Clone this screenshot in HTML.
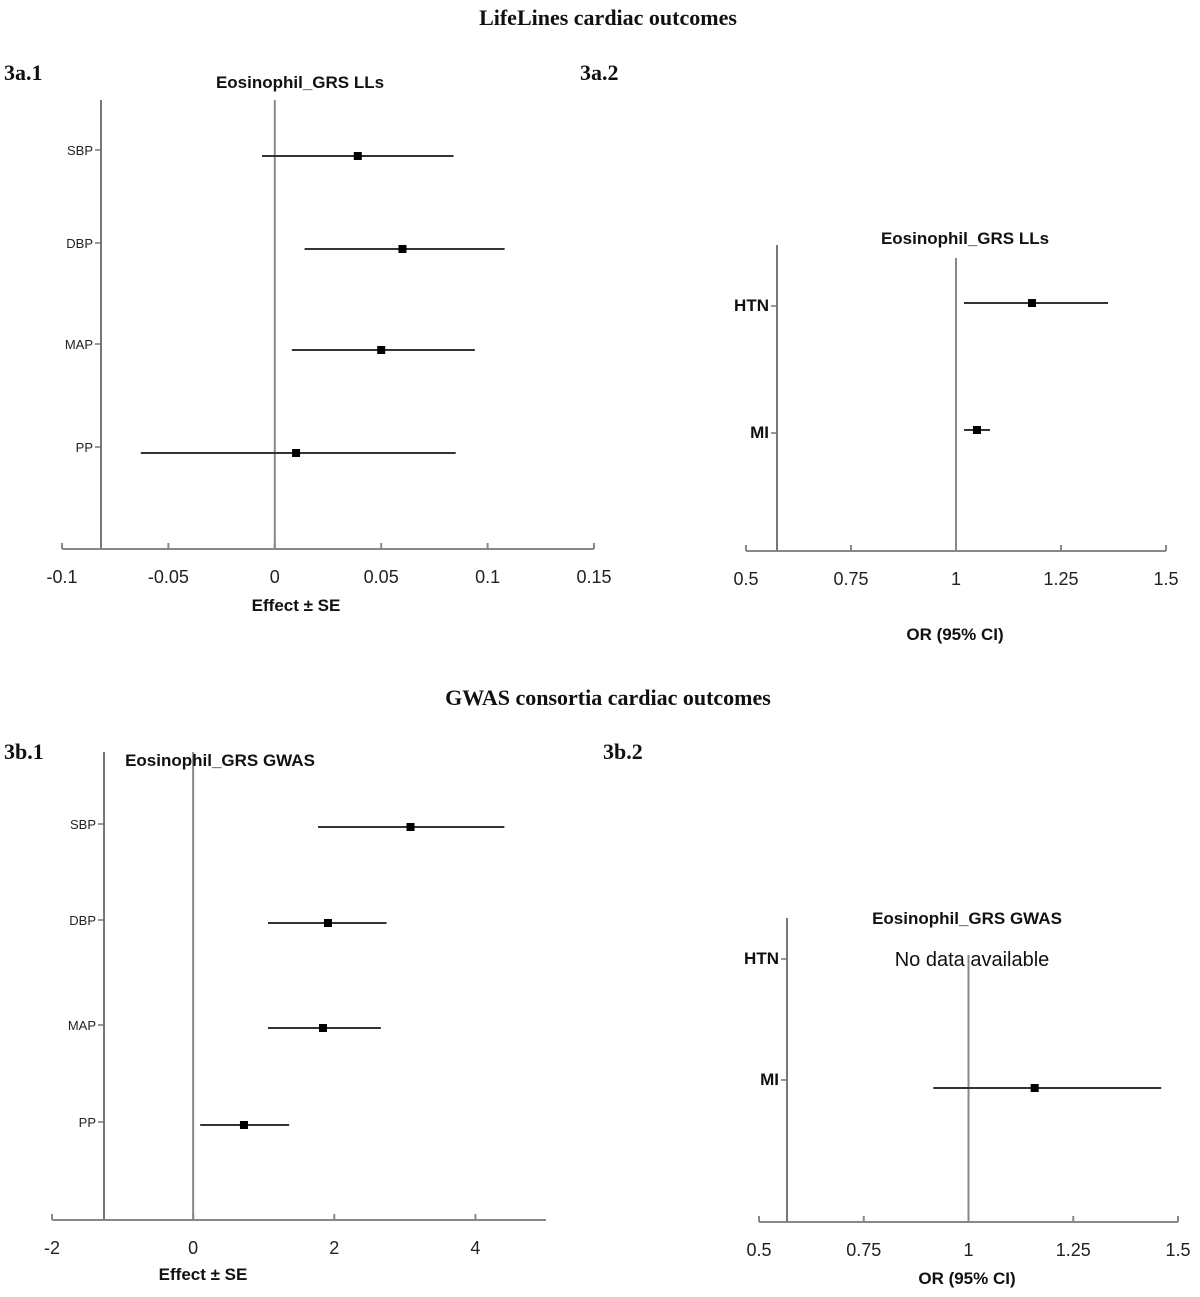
<!DOCTYPE html>
<html><head><meta charset="utf-8"><style>
body{margin:0;background:#fff;}
svg{display:block;}
.h{font-family:"Liberation Serif",serif;font-weight:bold;font-size:22px;fill:#111;}
.t{font-family:"Liberation Sans",sans-serif;font-weight:bold;font-size:17px;fill:#111;}
.tk{font-family:"Liberation Sans",sans-serif;font-size:18px;fill:#222;}
.rl{font-family:"Liberation Sans",sans-serif;font-size:13px;fill:#222;}
</style></head><body>
<svg id="s" width="1200" height="1297">
<text class="h" x="608" y="25" text-anchor="middle">LifeLines cardiac outcomes</text>
<text class="h" x="608" y="705" text-anchor="middle">GWAS consortia cardiac outcomes</text>
<text class="h" x="4" y="80">3a.1</text>
<text class="h" x="580" y="80">3a.2</text>
<text class="h" x="4" y="759">3b.1</text>
<text class="h" x="603" y="759">3b.2</text>
</svg>
<script>
// Panel 3a.1 data
const a1Cats=["SBP","DBP","MAP","PP"];
const a1Est=[0.039,0.060,0.050,0.010];
const a1Lo=[-0.006,0.014,0.008,-0.063];
const a1Hi=[0.084,0.108,0.094,0.085];
const a1Ticks=["-0.1","-0.05","0","0.05","0.1","0.15"];
// Panel 3a.2 data
const a2Cats=["HTN","MI"];
const a2Est=[1.181,1.05];
const a2Lo=[1.019,1.019];
const a2Hi=[1.362,1.081];
const a2Ticks=["0.5","0.75","1","1.25","1.5"];
// Panel 3b.1 data
const b1Cats=["SBP","DBP","MAP","PP"];
const b1Est=[3.08,1.91,1.84,0.72];
const b1Lo=[1.77,1.06,1.06,0.10];
const b1Hi=[4.41,2.74,2.66,1.36];
const b1Ticks=["-2","0","2","4"];
// Panel 3b.2 data
const b2Cats=["HTN","MI"];
const b2Est=[null,1.158];
const b2Lo=[null,0.916];
const b2Hi=[null,1.46];
const b2Ticks=["0.5","0.75","1","1.25","1.5"];

const S=document.getElementById('s');
const NS="http://www.w3.org/2000/svg";
function mk(tag,at,txt){const e=document.createElementNS(NS,tag);for(const k in at)e.setAttribute(k,at[k]);if(txt!==undefined)e.textContent=txt;S.appendChild(e);return e;}

function panel(p){
  const sx=v=>p.x0+(v-p.vmin)/(p.vmax-p.vmin)*(p.x1-p.x0);
  let e;
  e=mk('line',{x1:p.x0,y1:p.ay,x2:p.x1,y2:p.ay,stroke:'#888','stroke-width':2});
  
  
  p.ticks.forEach(t=>{const x=sx(parseFloat(t));
    e=mk('line',{x1:x,y1:p.ay,x2:x,y2:p.ay-6,stroke:'#888','stroke-width':2});
    
    
    e=mk('text',{x:x,y:p.ay+34,'text-anchor':'middle',class:'tk'},t);
    
    
  });
  e=mk('line',{x1:p.lx,y1:p.ltop,x2:p.lx,y2:p.ay,stroke:'#777','stroke-width':2});
  
  
  const zx=sx(p.ref);
  e=mk('line',{x1:zx,y1:p.ztop,x2:zx,y2:p.ay,stroke:'#888','stroke-width':2});
  
  
  p.cats.forEach((c,i)=>{const y=p.rowY[i];
    e=mk('line',{x1:p.lx-6,y1:y,x2:p.lx,y2:y,stroke:'#777','stroke-width':1.5});
    
    
    e=mk('text',{x:p.lx-8,y:y+5,'text-anchor':'end',class:p.big?'t':'rl'},c);
    
    
    if(p.est[i]===null)return;
    const py=y+p.off;
    e=mk('line',{x1:sx(p.lo[i]),y1:py,x2:sx(p.hi[i]),y2:py,stroke:'#333','stroke-width':2});
    
    
    e=mk('rect',{x:sx(p.est[i])-4,y:py-4,width:8,height:8,fill:'#000'});
    
    
  });
  e=mk('text',{x:p.tx,y:p.ty,'text-anchor':'middle',class:'t'},p.title);
  
  
  e=mk('text',{x:p.xtx,y:p.xty,'text-anchor':'middle',class:'t'},p.xtitle);
  
  
}
panel({id:'3a1',x0:62,x1:594,vmin:-0.1,vmax:0.15,ay:549,lx:101,ltop:100,ztop:100,ref:0,
 cats:a1Cats,est:a1Est,lo:a1Lo,hi:a1Hi,ticks:a1Ticks,rowY:[150,243,344,447],off:6,
 title:'Eosinophil_GRS LLs',tx:300,ty:88,xtitle:'Effect ± SE',xtx:296,xty:611});
panel({id:'3a2',x0:746,x1:1166,vmin:0.5,vmax:1.5,ay:551,lx:777,ltop:245,ztop:258,ref:1,big:true,
 cats:a2Cats,est:a2Est,lo:a2Lo,hi:a2Hi,ticks:a2Ticks,rowY:[306,433],off:-3,
 title:'Eosinophil_GRS LLs',tx:965,ty:244,xtitle:'OR (95% CI)',xtx:955,xty:640});
panel({id:'3b1',x0:52,x1:546,vmin:-2,vmax:5,ay:1220,lx:104,ltop:752,ztop:752,ref:0,
 cats:b1Cats,est:b1Est,lo:b1Lo,hi:b1Hi,ticks:b1Ticks,rowY:[824,920,1025,1122],off:3,
 title:'Eosinophil_GRS GWAS',tx:220,ty:766,xtitle:'Effect ± SE',xtx:203,xty:1280});
panel({id:'3b2',x0:759,x1:1178,vmin:0.5,vmax:1.5,ay:1222,lx:787,ltop:918,ztop:955,ref:1,big:true,
 cats:b2Cats,est:b2Est,lo:b2Lo,hi:b2Hi,ticks:b2Ticks,rowY:[959,1080],off:8,
 title:'Eosinophil_GRS GWAS',tx:967,ty:924,xtitle:'OR (95% CI)',xtx:967,xty:1284});
let nd=mk('text',{x:972,y:966,'text-anchor':'middle',style:'font-family:"Liberation Sans",sans-serif;font-size:20px;fill:#111'},'No data available');


</script>
</body></html>
